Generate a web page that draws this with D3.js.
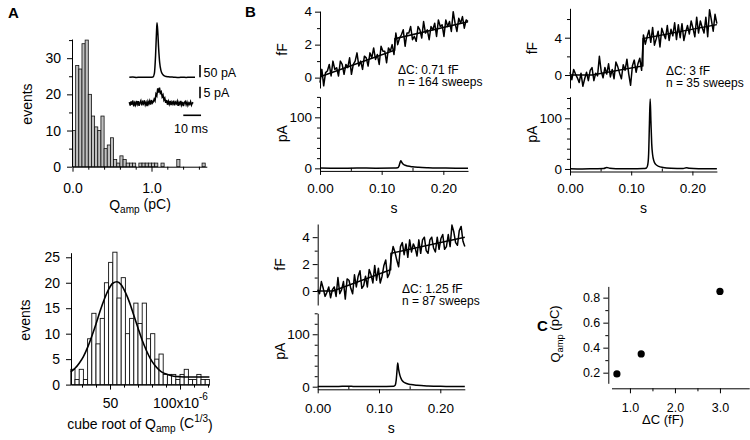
<!DOCTYPE html>
<html>
<head>
<meta charset="utf-8">
<script src="https://cdn.jsdelivr.net/npm/d3@7"></script>
<style>
  body { margin: 0; background: #fff; }
  svg { font-family: "Liberation Sans", Arial, Helvetica, sans-serif; }
</style>
</head>
<body>
<svg id="fig" width="750" height="440"></svg>
<script>
// ---------- data ----------
// A top: Q_amp histogram, bins of 0.04 pC from 0
const qampBinWidth = 0.04;
const qampCounts = [10, 28, 27, 34, 35, 20, 14, 11, 10, 14, 5, 6, 8, 2, 1, 3, 2, 1, 1, 1,
  0, 1, 1, 1, 1, 1, 1, 0, 1, 0, 0, 0, 0, 2, 0, 0, 0, 0, 0, 0, 0, 1];

// A bottom: cube root histogram (x10^-6 C^1/3), bins of 3 from 22
const cubeBinStart = 22;
const cubeBinWidth = 3;
const cubeCounts = [3, 1, 3, 1, 9, 14, 8, 13, 20, 24, 26, 17, 21, 10, 13, 16, 12, 16, 9, 10,
  5, 6, 2, 2, 2, 1, 2, 3, 1, 1, 2, 1, 1];
const cubeFit = [[22, 2.5], [25, 3.2], [28, 4.2], [31, 5.5], [34, 7.3], [37, 9.5], [40, 11.9],
  [43, 14.5], [46, 16.8], [49, 18.7], [52, 19.9], [55, 20.2], [58, 19.6], [61, 18.1], [64, 16.1],
  [67, 13.6], [70, 11.1], [73, 8.7], [76, 6.7], [79, 5.0], [82, 3.8], [85, 2.9], [88, 2.3],
  [91, 2.0], [94, 1.75], [97, 1.6], [100, 1.55], [106, 1.5], [121, 1.5]];

// A inset: example currents (ms, pA)
const insetBig = [[0, 0], [2, 0.8], [4, -0.6], [6, 0.6], [8, -0.3], [10, 0.6], [12, 0], [13.3, 1],
  [14.1, 15], [14.8, 90], [15.3, 180], [15.6, 222], [16, 190], [16.5, 120], [17.1, 60], [17.8, 28],
  [18.8, 12], [20, 5], [22, 2], [25, 0.5], [28, -0.6], [30, 0.6], [32, -0.5], [34, 0.4], [37, 0]];
const insetSmallStep = 0.5; // ms
const insetSmall = [0.5, -1.0, 0.8, -0.6, 1.2, -1.3, 0.2, -0.8, 1.0, -0.4,
  0.9, -1.1, 0.3, 1.1, -0.9, 0.6, -0.2, 1.3, -0.7, 0.4,
  -1.2, 0.8, -0.3, 1.0, -0.6, 1.4, 0.1, 0.6, 1.8, 1.0,
  4.0, 3.2, 6.4, 4.6, 6.8, 4.4, 5.0, 2.8, 3.6, 1.4,
  2.2, 0.2, 1.4, -0.6, 0.9, -0.4, 1.0, -0.8, 0.6, -0.3,
  1.1, -0.9, 0.5, -0.2, 0.9, -1.1, 0.4, -0.5, 1.0, -0.7,
  0.6, -1.2, 0.3, 0.8, -0.6, 0.5, -0.9, 0.2, -0.4, 0.7,
  -0.8, 0.1, 0.4];

// B: capacitance traces (fF), one sample every 3 ms
const traceStep = 0.003;
const fF_071 = [-0.3, 0.5, -0.5, 0.3, 0.4, 0.8, 0.1, 1.0, 0.5, 0.6,
  0.1, 1.0, 0.8, 0.2, 0.8, 0.6, 1.2, 0.2, 0.8, 1.0,
  1.5, 0.7, 1.0, 0.5, 1.3, 1.2, 0.7, 1.5, 1.2, 1.8,
  1.1, 1.4, 0.8, 1.9, 1.6, 1.6, 0.9, 1.8, 1.6, 2.0,
  1.4, 2.7, 2.0, 2.4, 2.6, 2.9, 1.9, 2.7, 2.7, 3.1,
  2.3, 2.5, 2.2, 3.1, 2.9, 2.4, 3.4, 2.7, 2.9, 2.3,
  3.1, 2.9, 3.3, 2.5, 3.5, 3.1, 3.2, 2.5, 3.5, 3.1,
  3.4, 2.8, 4.0, 3.3, 2.8, 3.6, 3.3, 3.7, 3.0, 3.5, 3.4];
const fF_300 = [0.3, -0.5, 0.6, 0.1, -0.3, -0.8, 0.2, -1.2, -0.4, 0.3,
  -0.6, 0.5, 0.8, -0.6, 0.2, -0.1, 2.0, 0.4, -0.3, 0.8,
  0.1, 1.2, -0.2, 0.6, -0.4, 1.4, 0.9, 0.2, -0.4, 1.1,
  0.5, 1.7, 0.1, -1.1, 1.0, 1.6, 0.3, 1.2, 1.8, 0.5,
  4.3, 3.3, 4.1, 4.8, 3.5, 5.1, 3.2, 3.9, 4.7, 3.0,
  5.0, 4.4, 3.9, 5.3, 3.7, 4.9, 4.2, 5.6, 3.8, 5.4,
  4.0, 5.5, 3.7, 4.6, 5.3, 4.4, 5.8, 5.0, 4.1, 6.2,
  4.5, 5.8, 5.1, 4.5, 6.2, 4.1, 7.0, 5.9, 4.7, 6.5, 5.5];
const fF_125 = [0.1, -0.2, 0.7, 0.2, -0.4, -0.1, 0.3, -0.5, 0.1, 0.3,
  -0.4, 1.0, -0.2, 0.1, 0.7, -0.6, 0.9, 0.8, 0.2, -0.2,
  1.2, 0.3, 1.1, 1.5, 0.2, 0.4, 1.1, 0.3, 1.6, 1.2,
  0.6, 1.9, 0.8, 1.7, 0.6, 1.1, 1.9, 2.3, 1.0, 1.3,
  2.5, 3.3, 2.9, 2.3, 1.8, 3.3, 3.6, 2.7, 3.5, 2.5,
  3.8, 2.9, 3.5, 3.2, 2.6, 3.8, 2.8, 3.8, 4.0, 3.0,
  2.8, 3.8, 4.0, 3.2, 2.9, 4.0, 3.1, 3.9, 4.2, 3.1,
  3.3, 4.2, 3.3, 4.9, 4.4, 3.6, 3.4, 4.5, 4.8, 3.7, 3.3];
// fitted steps (s, fF)
const fit_071 = [[0, 0.05], [0.121, 1.66], [0.1215, 2.36], [0.24, 3.39]];
const fit_300 = [[0, 0], [0.036, 0], [0.119, 0.97], [0.1195, 3.9], [0.24, 5.4]];
const fit_125 = [[0, 0], [0.025, 0], [0.119, 1.58], [0.1195, 2.8], [0.24, 4.0]];
// averaged currents (s, pA)
const pA_071 = [[0, 0.5], [0.03, 0], [0.06, 0.8], [0.09, 0.2], [0.12, 0.5], [0.126, 1], [0.128, 4],
  [0.1295, 10], [0.131, 15], [0.1325, 12], [0.135, 8], [0.138, 6], [0.142, 4.5], [0.15, 3],
  [0.16, 2], [0.175, 1.2], [0.2, 0.6], [0.22, 0.3], [0.24, 0.3]];
const pA_300 = [[0, 0.5], [0.02, 0], [0.04, 0.5], [0.055, 0.8], [0.06, 3], [0.065, 1.5], [0.075, 0.5],
  [0.1, 0.3], [0.12, 0.8], [0.125, 2], [0.127, 8], [0.1285, 30], [0.1298, 90], [0.131, 138],
  [0.1322, 95], [0.1335, 50], [0.135, 28], [0.137, 16], [0.14, 9], [0.145, 5], [0.152, 3],
  [0.165, 1.5], [0.185, 1], [0.19, 2.5], [0.195, 1.5], [0.21, 0.5], [0.24, 0.3]];
const pA_125 = [[0, 0.5], [0.03, 0.3], [0.05, 1], [0.06, 0.3], [0.1, 0.3], [0.124, 0.8], [0.1265, 3],
  [0.128, 12], [0.1295, 32], [0.1305, 45], [0.132, 33], [0.134, 22], [0.137, 13], [0.14, 9],
  [0.145, 6], [0.152, 4], [0.162, 2.5], [0.18, 1.2], [0.2, 0.6], [0.24, 0.3]];

// C: Q_amp vs delta C
const deltaC = [0.71, 1.25, 3.0];
const qampMean = [0.19, 0.35, 0.85];

// ---------- helpers ----------
const svg = d3.select("#fig");
svg.append("rect").attr("width", 750).attr("height", 440).attr("fill", "#fff");

function styleAxis(sel, fs) {
  sel.attr("font-size", fs).attr("font-family", null);
  sel.selectAll("path, line").attr("stroke", "#000").attr("stroke-width", 1);
  sel.selectAll("text").attr("fill", "#000");
}

function leftAxis(y, x, major, minor, fmt, fs = 13.5, len = 5, pad = 3) {
  const g = svg.append("g").attr("transform", `translate(${x},0)`)
    .call(d3.axisLeft(y).tickValues(major).tickSize(len).tickSizeOuter(0).tickPadding(pad).tickFormat(fmt));
  styleAxis(g, fs);
  if (minor.length) {
    const m = svg.append("g").attr("transform", `translate(${x},0)`)
      .call(d3.axisLeft(y).tickValues(minor).tickSize(3).tickFormat(""));
    m.select(".domain").remove();
    styleAxis(m, fs);
  }
  return g;
}

function bottomAxis(xs, y, major, minor, fmt, labelY, fs = 13.5, len = 5, minorUp = false) {
  const g = svg.append("g").attr("transform", `translate(0,${y})`)
    .call(d3.axisBottom(xs).tickValues(major).tickSize(len).tickSizeOuter(0).tickFormat(fmt));
  styleAxis(g, fs);
  g.selectAll(".tick text").attr("y", labelY - y).attr("dy", 0);
  if (minor.length) {
    const ax = minorUp ? d3.axisTop(xs) : d3.axisBottom(xs);
    const m = svg.append("g").attr("transform", `translate(0,${y})`)
      .call(ax.tickValues(minor).tickSize(3).tickFormat(""));
    m.select(".domain").remove();
    styleAxis(m, fs);
  }
  return g;
}

function label(x, y, txt, fs = 14, anchor = "middle", rot = 0) {
  return svg.append("text")
    .attr("transform", `translate(${x},${y}) rotate(${rot})`)
    .attr("text-anchor", anchor).attr("font-size", fs).attr("fill", "#000").text(txt);
}

function qampLabel(x, y, fs, rot, head, tail) {
  const t = label(x, y, head + "Q", fs, "middle", rot);
  t.append("tspan").attr("dy", "0.3em").attr("font-size", fs * 0.72).text("amp");
  t.append("tspan").attr("dy", "-0.3em").text(tail);
  return t;
}

// panel letters
label(8, 18, "A", 15, "start").attr("font-weight", "bold");
label(245, 17, "B", 15, "start").attr("font-weight", "bold");
label(537, 331, "C", 15, "start").attr("font-weight", "bold");

// ---------- A top: Q_amp histogram ----------
const xq = d3.scaleLinear().domain([0, 1.7]).range([72.5, 206.8]);
const yq = d3.scaleLinear().domain([0, 35.3]).range([166.7, 39]);
svg.append("g").selectAll("rect")
  .data(qampCounts.map((c, i) => ({ i, c })).filter(d => d.c > 0))
  .join("rect")
  .attr("x", d => xq(d.i * qampBinWidth))
  .attr("width", xq(qampBinWidth) - xq(0))
  .attr("y", d => yq(d.c))
  .attr("height", d => yq(0) - yq(d.c))
  .attr("fill", "#c0c0c0").attr("stroke", "#111").attr("stroke-width", 0.8);
leftAxis(yq, 72, [0, 10, 20, 30], [5, 15, 25, 35], d3.format("d"), 14, 5, 6);
bottomAxis(xq, 166.7, [0, 1], [0.2, 0.4, 0.6, 0.8, 1.2, 1.4, 1.6], d3.format(".1f"), 193.5, 14);
label(32, 104, "events", 14, "middle", -90);
qampLabel(140, 210, 14, 0, "", " (pC)");

// inset traces
const xIn = d3.scaleLinear().domain([0, 37]).range([129.3, 195]);
const yInBig = d3.scaleLinear().domain([0, 222]).range([77.3, 22.7]);
const yInSmall = d3.scaleLinear().domain([0, 6.9]).range([103.3, 87.3]);
svg.append("path").datum(insetBig)
  .attr("d", d3.line().x(d => xIn(d[0])).y(d => yInBig(d[1])).curve(d3.curveMonotoneX))
  .attr("fill", "none").attr("stroke", "#000").attr("stroke-width", 1.5);
svg.append("path").datum(insetSmall)
  .attr("d", d3.line().x((d, i) => xIn(i * insetSmallStep)).y(d => yInSmall(d)))
  .attr("fill", "none").attr("stroke", "#000").attr("stroke-width", 1.5);
svg.append("line").attr("x1", 200).attr("x2", 200)
  .attr("y1", yInBig(0)).attr("y2", yInBig(50)).attr("stroke", "#000").attr("stroke-width", 1.6);
svg.append("line").attr("x1", 200).attr("x2", 200)
  .attr("y1", yInSmall(2.15)).attr("y2", yInSmall(7.15)).attr("stroke", "#000").attr("stroke-width", 1.6);
svg.append("line").attr("x1", xIn(30.4)).attr("x2", xIn(40.4))
  .attr("y1", 115.3).attr("y2", 115.3).attr("stroke", "#000").attr("stroke-width", 1.6);
label(203.5, 76.5, "50 pA", 12.5, "start");
label(203.5, 96.5, "5 pA", 12.5, "start");
label(191, 132.5, "10 ms", 12.5, "middle");

// ---------- A bottom: cube-root histogram ----------
const xc = d3.scaleLinear().domain([22, 121]).range([70.8, 209.4]);
const yc = d3.scaleLinear().domain([0, 25.9]).range([384.6, 252.7]);
svg.append("g").selectAll("rect")
  .data(cubeCounts.map((c, i) => ({ i, c })).filter(d => d.c > 0))
  .join("rect")
  .attr("x", d => xc(cubeBinStart + d.i * cubeBinWidth))
  .attr("width", xc(cubeBinStart + cubeBinWidth) - xc(cubeBinStart))
  .attr("y", d => yc(d.c))
  .attr("height", d => yc(0) - yc(d.c))
  .attr("fill", "#fff").attr("stroke", "#111").attr("stroke-width", 0.9);
svg.append("path").datum(cubeFit)
  .attr("d", d3.line().x(d => xc(d[0])).y(d => yc(d[1])).curve(d3.curveMonotoneX))
  .attr("fill", "none").attr("stroke", "#000").attr("stroke-width", 1.6);
leftAxis(yc, 71, [0, 5, 10, 15, 20, 25], [], d3.format("d"), 14, 5, 6);
const cubeX = bottomAxis(xc, 384.6, [50, 100], [30, 40, 60, 70, 80, 90, 110, 120], d => d, 408, 14);
cubeX.selectAll(".tick text").each(function (d) {
  if (d === 100) {
    const t = d3.select(this).text("100x10");
    t.append("tspan").attr("dy", "-0.75em").attr("font-size", 10).text("-6");
  }
});
label(30, 320, "events", 14, "middle", -90);
{
  const t = qampLabel(140, 429, 14, 0, "cube root of ", " (C");
  t.append("tspan").attr("dy", "-0.55em").attr("font-size", 10).text("1/3");
  t.append("tspan").attr("dy", "0.55em").text(")");
}

// ---------- B: capacitance / current panels ----------
const bPanels = [
  { x0: 320, pps: 616.7, fDom: [-0.63, 4.04], fRng: [88, 11], aDom: [-5, 140.4], aRng: [170.9, 96.7],
    fMajor: [0, 2, 4], fMinor: [1, 3], cap: fF_071, fit: fit_071, cur: pA_071,
    note: ["\u0394C: 0.71 fF", "n = 164 sweeps"], noteX: 398, noteY: 74, tickY: 193, sY: 213 },
  { x0: 570, pps: 612, fDom: [-1.39, 7.15], fRng: [88, 8.3], aDom: [-5, 142.6], aRng: [171.5, 96.7],
    fMajor: [0, 4], fMinor: [2, 6], cap: fF_300, fit: fit_300, cur: pA_300,
    note: ["\u0394C: 3 fF", "n = 35 sweeps"], noteX: 666, noteY: 75, tickY: 193, sY: 213 },
  { x0: 317.7, pps: 613, fDom: [-1.04, 4.98], fRng: [305, 224], aDom: [-5, 140], aRng: [389.3, 313.3],
    fMajor: [0, 2, 4], fMinor: [1, 3], cap: fF_125, fit: fit_125, cur: pA_125,
    note: ["\u0394C: 1.25 fF", "n = 87 sweeps"], noteX: 402, noteY: 293, tickY: 413, sY: 432.5 }
];

bPanels.forEach(p => {
  const x = d3.scaleLinear().domain([0, 0.24]).range([p.x0, p.x0 + 0.24 * p.pps]);
  const yf = d3.scaleLinear().domain(p.fDom).range(p.fRng);
  const ya = d3.scaleLinear().domain(p.aDom).range(p.aRng);

  svg.append("path").datum(p.cap)
    .attr("d", d3.line().x((d, i) => x(i * traceStep)).y(d => yf(d)))
    .attr("fill", "none").attr("stroke", "#000").attr("stroke-width", 1.5).attr("stroke-linejoin", "round");
  svg.append("path").datum(p.fit)
    .attr("d", d3.line().x(d => x(d[0])).y(d => yf(d[1])))
    .attr("fill", "none").attr("stroke", "#000").attr("stroke-width", 1.5);
  svg.append("path").datum(p.cur)
    .attr("d", d3.line().x(d => x(d[0])).y(d => ya(d[1])).curve(d3.curveMonotoneX))
    .attr("fill", "none").attr("stroke", "#000").attr("stroke-width", 1.5);

  leftAxis(yf, p.x0, p.fMajor, p.fMinor, d3.format("d"));
  leftAxis(ya, p.x0, [0, 100], [20, 40, 60, 80, 120, 140], d3.format("d"));
  bottomAxis(x, p.aRng[0], [0, 0.1, 0.2], [0.05, 0.15], d3.format(".2f"), p.tickY, 13.5, 4, true);

  const yMidF = (p.fRng[0] + p.fRng[1]) / 2;
  const yMidA = (p.aRng[0] + p.aRng[1]) / 2;
  label(p.x0 - 33, yMidF, "fF", 14, "middle", -90);
  label(p.x0 - 33, yMidA, "pA", 14, "middle", -90);
  label(x(0.12), p.sY, "s", 14);
  label(p.noteX, p.noteY, p.note[0], 12, "start");
  label(p.noteX, p.noteY + 11.5, p.note[1], 12, "start");
});

// ---------- C: Q_amp vs delta C ----------
const xd = d3.scaleLinear().domain([0.59, 3.65]).range([611.5, 749.2]);
const yd = d3.scaleLinear().domain([0.115, 0.89]).range([383.3, 286.4]);
svg.append("g").selectAll("circle")
  .data(deltaC.map((d, i) => ({ d, q: qampMean[i] })))
  .join("circle")
  .attr("cx", d => xd(d.d)).attr("cy", d => yd(d.q)).attr("r", 3.6).attr("fill", "#000");
leftAxis(yd, 608.3, [0.2, 0.4, 0.6, 0.8], [0.3, 0.5, 0.7], d3.format(".1f"), 12.5, 5, 3);
bottomAxis(xd, 388.3, [1, 2, 3], [1.5, 2.5], d3.format(".1f"), 412, 12.5, 5);
label(663, 424, "\u0394C (fF)", 13);
qampLabel(560, 334, 13, -90, "", " (pC)");
</script>
</body>
</html>
